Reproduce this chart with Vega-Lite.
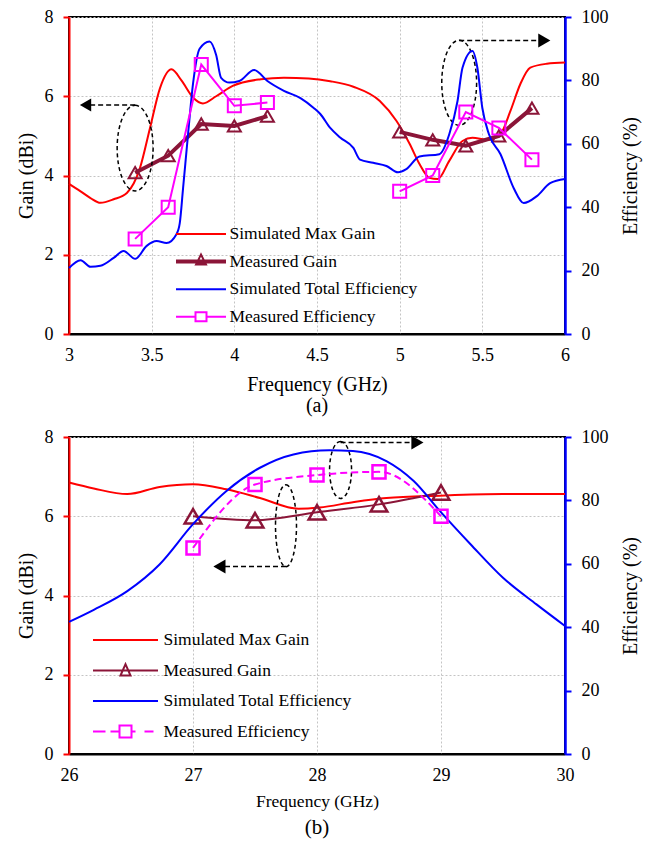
{
  "$schema": "https://vega.github.io/schema/vega-lite/v6.json",
  "background": "white",
  "padding": {"top": 7, "left": 15, "right": 10, "bottom": 5},
  "spacing": 10,
  "config": {
    "font": "Liberation Serif",
    "view": {"stroke": "black", "strokeWidth": 2},
    "axis": {
      "labelFont": "Liberation Serif", "titleFont": "Liberation Serif",
      "labelFontSize": 18, "titleFontSize": 20, "titleFontWeight": "normal",
      "labelColor": "black", "titleColor": "black",
      "gridColor": "#c4c4c4", "gridDash": [2, 2], "gridWidth": 1,
      "labelOverlap": false
    },
    "legend": {"labelFont": "Liberation Serif", "labelColor": "black", "labelLimit": 400},
    "title": {"font": "Liberation Serif", "fontWeight": "normal", "color": "black"}
  },
  "datasets": {
    "a_sg": [
      {"f": 3.0, "g": 3.79, "s": "Simulated Max Gain"},
      {"f": 3.07, "g": 3.6, "s": "Simulated Max Gain"},
      {"f": 3.13, "g": 3.43, "s": "Simulated Max Gain"},
      {"f": 3.19, "g": 3.31, "s": "Simulated Max Gain"},
      {"f": 3.27, "g": 3.4, "s": "Simulated Max Gain"},
      {"f": 3.35, "g": 3.56, "s": "Simulated Max Gain"},
      {"f": 3.43, "g": 4.2, "s": "Simulated Max Gain"},
      {"f": 3.49, "g": 5.2, "s": "Simulated Max Gain"},
      {"f": 3.55, "g": 6.2, "s": "Simulated Max Gain"},
      {"f": 3.62, "g": 6.68, "s": "Simulated Max Gain"},
      {"f": 3.68, "g": 6.4, "s": "Simulated Max Gain"},
      {"f": 3.75, "g": 5.97, "s": "Simulated Max Gain"},
      {"f": 3.81, "g": 5.82, "s": "Simulated Max Gain"},
      {"f": 3.89, "g": 6.0, "s": "Simulated Max Gain"},
      {"f": 3.99, "g": 6.26, "s": "Simulated Max Gain"},
      {"f": 4.16, "g": 6.43, "s": "Simulated Max Gain"},
      {"f": 4.3, "g": 6.47, "s": "Simulated Max Gain"},
      {"f": 4.45, "g": 6.45, "s": "Simulated Max Gain"},
      {"f": 4.58, "g": 6.38, "s": "Simulated Max Gain"},
      {"f": 4.72, "g": 6.24, "s": "Simulated Max Gain"},
      {"f": 4.88, "g": 5.88, "s": "Simulated Max Gain"},
      {"f": 4.98, "g": 5.38, "s": "Simulated Max Gain"},
      {"f": 5.06, "g": 4.8, "s": "Simulated Max Gain"},
      {"f": 5.12, "g": 4.29, "s": "Simulated Max Gain"},
      {"f": 5.18, "g": 3.94, "s": "Simulated Max Gain"},
      {"f": 5.23, "g": 3.91, "s": "Simulated Max Gain"},
      {"f": 5.3, "g": 4.37, "s": "Simulated Max Gain"},
      {"f": 5.38, "g": 4.87, "s": "Simulated Max Gain"},
      {"f": 5.44, "g": 4.95, "s": "Simulated Max Gain"},
      {"f": 5.53, "g": 4.9, "s": "Simulated Max Gain"},
      {"f": 5.61, "g": 5.05, "s": "Simulated Max Gain"},
      {"f": 5.67, "g": 5.63, "s": "Simulated Max Gain"},
      {"f": 5.73, "g": 6.31, "s": "Simulated Max Gain"},
      {"f": 5.79, "g": 6.72, "s": "Simulated Max Gain"},
      {"f": 5.89, "g": 6.82, "s": "Simulated Max Gain"},
      {"f": 6.0, "g": 6.85, "s": "Simulated Max Gain"}
    ],
    "a_mg": [
      {"f": 3.4, "g": 4.07, "seg": 1, "s": "Measured Gain"},
      {"f": 3.6, "g": 4.5, "seg": 1, "s": "Measured Gain"},
      {"f": 3.8, "g": 5.3, "seg": 1, "s": "Measured Gain"},
      {"f": 4.0, "g": 5.25, "seg": 1, "s": "Measured Gain"},
      {"f": 4.2, "g": 5.5, "seg": 1, "s": "Measured Gain"},
      {"f": 5.0, "g": 5.1, "seg": 2, "s": "Measured Gain"},
      {"f": 5.2, "g": 4.9, "seg": 2, "s": "Measured Gain"},
      {"f": 5.4, "g": 4.75, "seg": 2, "s": "Measured Gain"},
      {"f": 5.6, "g": 5.0, "seg": 2, "s": "Measured Gain"},
      {"f": 5.8, "g": 5.7, "seg": 2, "s": "Measured Gain"}
    ],
    "a_se": [
      {"f": 3.0, "e": 20.8, "s": "Simulated Total Efficiency"},
      {"f": 3.07, "e": 23.3, "s": "Simulated Total Efficiency"},
      {"f": 3.13, "e": 21.2, "s": "Simulated Total Efficiency"},
      {"f": 3.19, "e": 21.5, "s": "Simulated Total Efficiency"},
      {"f": 3.27, "e": 24, "s": "Simulated Total Efficiency"},
      {"f": 3.33, "e": 26.2, "s": "Simulated Total Efficiency"},
      {"f": 3.4, "e": 23.7, "s": "Simulated Total Efficiency"},
      {"f": 3.47, "e": 27.8, "s": "Simulated Total Efficiency"},
      {"f": 3.53, "e": 29.3, "s": "Simulated Total Efficiency"},
      {"f": 3.59, "e": 28.7, "s": "Simulated Total Efficiency"},
      {"f": 3.65, "e": 31.5, "s": "Simulated Total Efficiency"},
      {"f": 3.67, "e": 35, "s": "Simulated Total Efficiency"},
      {"f": 3.69, "e": 46, "s": "Simulated Total Efficiency"},
      {"f": 3.72, "e": 63, "s": "Simulated Total Efficiency"},
      {"f": 3.75, "e": 78.9, "s": "Simulated Total Efficiency"},
      {"f": 3.79, "e": 90, "s": "Simulated Total Efficiency"},
      {"f": 3.85, "e": 92.3, "s": "Simulated Total Efficiency"},
      {"f": 3.89, "e": 88, "s": "Simulated Total Efficiency"},
      {"f": 3.92, "e": 80.8, "s": "Simulated Total Efficiency"},
      {"f": 3.97, "e": 79.3, "s": "Simulated Total Efficiency"},
      {"f": 4.03, "e": 79.8, "s": "Simulated Total Efficiency"},
      {"f": 4.12, "e": 83.3, "s": "Simulated Total Efficiency"},
      {"f": 4.2, "e": 79.8, "s": "Simulated Total Efficiency"},
      {"f": 4.3, "e": 76.7, "s": "Simulated Total Efficiency"},
      {"f": 4.4, "e": 74.4, "s": "Simulated Total Efficiency"},
      {"f": 4.48, "e": 71.3, "s": "Simulated Total Efficiency"},
      {"f": 4.52, "e": 69.4, "s": "Simulated Total Efficiency"},
      {"f": 4.58, "e": 65, "s": "Simulated Total Efficiency"},
      {"f": 4.64, "e": 62, "s": "Simulated Total Efficiency"},
      {"f": 4.72, "e": 58.7, "s": "Simulated Total Efficiency"},
      {"f": 4.76, "e": 55, "s": "Simulated Total Efficiency"},
      {"f": 4.84, "e": 54, "s": "Simulated Total Efficiency"},
      {"f": 4.92, "e": 53, "s": "Simulated Total Efficiency"},
      {"f": 4.99, "e": 51, "s": "Simulated Total Efficiency"},
      {"f": 5.04, "e": 52, "s": "Simulated Total Efficiency"},
      {"f": 5.12, "e": 56, "s": "Simulated Total Efficiency"},
      {"f": 5.24, "e": 56.7, "s": "Simulated Total Efficiency"},
      {"f": 5.3, "e": 63, "s": "Simulated Total Efficiency"},
      {"f": 5.35, "e": 73.5, "s": "Simulated Total Efficiency"},
      {"f": 5.38, "e": 84, "s": "Simulated Total Efficiency"},
      {"f": 5.44, "e": 89.3, "s": "Simulated Total Efficiency"},
      {"f": 5.47, "e": 84, "s": "Simulated Total Efficiency"},
      {"f": 5.5, "e": 71.3, "s": "Simulated Total Efficiency"},
      {"f": 5.54, "e": 63, "s": "Simulated Total Efficiency"},
      {"f": 5.61, "e": 56.7, "s": "Simulated Total Efficiency"},
      {"f": 5.69, "e": 46, "s": "Simulated Total Efficiency"},
      {"f": 5.75, "e": 41.3, "s": "Simulated Total Efficiency"},
      {"f": 5.83, "e": 43.5, "s": "Simulated Total Efficiency"},
      {"f": 5.91, "e": 47.6, "s": "Simulated Total Efficiency"},
      {"f": 6.0, "e": 48.9, "s": "Simulated Total Efficiency"}
    ],
    "a_me": [
      {"f": 3.4, "e": 30, "seg": 1, "s": "Measured Efficiency"},
      {"f": 3.6, "e": 40, "seg": 1, "s": "Measured Efficiency"},
      {"f": 3.8, "e": 85, "seg": 1, "s": "Measured Efficiency"},
      {"f": 4.0, "e": 72, "seg": 1, "s": "Measured Efficiency"},
      {"f": 4.2, "e": 73, "seg": 1, "s": "Measured Efficiency"},
      {"f": 5.0, "e": 45, "seg": 2, "s": "Measured Efficiency"},
      {"f": 5.2, "e": 50, "seg": 2, "s": "Measured Efficiency"},
      {"f": 5.4, "e": 70, "seg": 2, "s": "Measured Efficiency"},
      {"f": 5.6, "e": 65, "seg": 2, "s": "Measured Efficiency"},
      {"f": 5.8, "e": 55, "seg": 2, "s": "Measured Efficiency"}
    ],
    "b_sg": [
      {"f": 26.0, "g": 6.85, "s": "Simulated Max Gain"},
      {"f": 26.2, "g": 6.7, "s": "Simulated Max Gain"},
      {"f": 26.47, "g": 6.56, "s": "Simulated Max Gain"},
      {"f": 26.73, "g": 6.74, "s": "Simulated Max Gain"},
      {"f": 27.0, "g": 6.81, "s": "Simulated Max Gain"},
      {"f": 27.27, "g": 6.68, "s": "Simulated Max Gain"},
      {"f": 27.54, "g": 6.46, "s": "Simulated Max Gain"},
      {"f": 27.85, "g": 6.19, "s": "Simulated Max Gain"},
      {"f": 28.02, "g": 6.22, "s": "Simulated Max Gain"},
      {"f": 28.3, "g": 6.36, "s": "Simulated Max Gain"},
      {"f": 28.56, "g": 6.46, "s": "Simulated Max Gain"},
      {"f": 28.99, "g": 6.52, "s": "Simulated Max Gain"},
      {"f": 29.5, "g": 6.56, "s": "Simulated Max Gain"},
      {"f": 30.0, "g": 6.56, "s": "Simulated Max Gain"}
    ],
    "b_mg": [
      {"f": 27.0, "g": 6.0, "s": "Measured Gain"},
      {"f": 27.5, "g": 5.9, "s": "Measured Gain"},
      {"f": 28.0, "g": 6.1, "s": "Measured Gain"},
      {"f": 28.5, "g": 6.3, "s": "Measured Gain"},
      {"f": 29.0, "g": 6.6, "s": "Measured Gain"}
    ],
    "b_se": [
      {"f": 26.0, "e": 41.7, "s": "Simulated Total Efficiency"},
      {"f": 26.2, "e": 45.5, "s": "Simulated Total Efficiency"},
      {"f": 26.47, "e": 51.4, "s": "Simulated Total Efficiency"},
      {"f": 26.73, "e": 59.8, "s": "Simulated Total Efficiency"},
      {"f": 27.0, "e": 72.5, "s": "Simulated Total Efficiency"},
      {"f": 27.27, "e": 83, "s": "Simulated Total Efficiency"},
      {"f": 27.54, "e": 90.3, "s": "Simulated Total Efficiency"},
      {"f": 27.81, "e": 94.5, "s": "Simulated Total Efficiency"},
      {"f": 28.1, "e": 95.8, "s": "Simulated Total Efficiency"},
      {"f": 28.29, "e": 95.6, "s": "Simulated Total Efficiency"},
      {"f": 28.56, "e": 92.4, "s": "Simulated Total Efficiency"},
      {"f": 28.78, "e": 86.1, "s": "Simulated Total Efficiency"},
      {"f": 28.99, "e": 76.7, "s": "Simulated Total Efficiency"},
      {"f": 29.24, "e": 66.1, "s": "Simulated Total Efficiency"},
      {"f": 29.5, "e": 55.6, "s": "Simulated Total Efficiency"},
      {"f": 29.77, "e": 47.2, "s": "Simulated Total Efficiency"},
      {"f": 30.0, "e": 40.4, "s": "Simulated Total Efficiency"}
    ],
    "b_me": [
      {"f": 27.0, "e": 65, "s": "Measured Efficiency"},
      {"f": 27.5, "e": 85, "s": "Measured Efficiency"},
      {"f": 28.0, "e": 88, "s": "Measured Efficiency"},
      {"f": 28.5, "e": 89, "s": "Measured Efficiency"},
      {"f": 29.0, "e": 75, "s": "Measured Efficiency"}
    ],
    "a_ell1": [{"f": 3.4, "g": 4.69}],
    "a_ell2": [{"f": 5.36, "g": 6.34}],
    "a_arrL": [{"f": 3.4, "f2": 3.1, "g": 5.78}],
    "a_arrR": [{"f": 5.36, "f2": 5.875, "g": 7.41}],
    "b_ell1": [{"f": 27.75, "g": 5.76}],
    "b_ell2": [{"f": 28.19, "g": 7.17}],
    "b_arrL": [{"f": 27.75, "f2": 27.213, "g": 4.73}],
    "b_arrR": [{"f": 28.19, "f2": 28.81, "g": 7.86}]
  },
  "resolve": {"scale": {"x": "independent", "y": "independent", "color": "independent"}},
  "vconcat": [
    {
      "width": 496, "height": 317,
      "title": {"text": "(a)", "orient": "bottom", "frame": "group", "anchor": "middle", "fontSize": 20, "offset": 2},
      "layer": [
        {
          "layer": [
            {
              "data": {"name": "a_sg"},
              "mark": {"type": "line", "strokeWidth": 2, "interpolate": "monotone"},
              "encoding": {
                "x": {"field": "f", "type": "quantitative", "scale": {"domain": [3, 6], "nice": false},
                  "axis": {"values": [3, 3.5, 4, 4.5, 5, 5.5, 6], "labelExpr": "'' + datum.value", "title": "Frequency (GHz)", "domainColor": "black", "domainWidth": 2, "ticks": false, "labelPadding": 12, "titlePadding": 10, "grid": true, "labelFlush": false}},
                "y": {"field": "g", "type": "quantitative", "scale": {"domain": [0, 8], "nice": false},
                  "axis": {"values": [0, 2, 4, 6, 8], "labelExpr": "'' + datum.value", "title": "Gain (dBi)", "orient": "left", "domainColor": "#ff0000", "domainWidth": 2, "tickColor": "#ff0000", "tickWidth": 2, "tickSize": 6, "labelPadding": 10, "titlePadding": 8, "grid": true}},
                "color": {"field": "s", "type": "nominal",
                  "scale": {"domain": ["Simulated Max Gain", "Measured Gain", "Simulated Total Efficiency", "Measured Efficiency"], "range": ["#ff0000", "#8b1538", "#0000ff", "#ff00ff"]},
                  "legend": {
                    "orient": "none", "legendX": 121, "legendY": 206, "title": null, "padding": 0,
                    "symbolSize": 400, "labelFontSize": 17.5, "labelOffset": 17.5, "rowPadding": 7.6, "labelLimit": 400,
                    "encode": {"symbols": {"update": {
                      "shape": {"signal": "datum.value === 'Measured Gain' ? 'M-2.5,-0.1H2.5M-2.5,0.1H2.5M-0.5,0.3L0,-0.7L0.5,0.3Z' : datum.value === 'Measured Efficiency' ? 'M-2.5,0H-0.55M0.55,0H2.5M-0.55,-0.45H0.55V0.45H-0.55Z' : 'M-2.5,0H2.5'"},
                      "size": {"value": 400},
                      "stroke": {"signal": "datum.value === 'Simulated Max Gain' ? '#ff0000' : datum.value === 'Measured Gain' ? '#8b1538' : datum.value === 'Simulated Total Efficiency' ? '#0000ff' : '#ff00ff'"},
                      "strokeWidth": {"value": 2},
                      "fill": {"value": "transparent"},
                      "opacity": {"value": 1}
                    }}}
                  }}
              }
            },
            {
              "data": {"name": "a_mg"},
              "mark": {"type": "line", "strokeWidth": 4},
              "encoding": {
                "x": {"field": "f", "type": "quantitative"},
                "y": {"field": "g", "type": "quantitative"},
                "detail": {"field": "seg", "type": "nominal"},
                "color": {"field": "s", "type": "nominal"}
              }
            },
            {
              "data": {"name": "a_mg"},
              "mark": {"type": "point", "shape": "triangle-up", "filled": false, "size": 170, "strokeWidth": 2, "opacity": 1},
              "encoding": {
                "x": {"field": "f", "type": "quantitative"},
                "y": {"field": "g", "type": "quantitative"},
                "color": {"field": "s", "type": "nominal"}
              }
            },
            {
              "data": {"name": "a_ell1"},
              "mark": {"type": "point", "shape": "M0,-1A0.42,1,0,1,1,0,1A0.42,1,0,1,1,0,-1Z", "filled": false, "stroke": "black", "strokeWidth": 1.5, "strokeDash": [4, 3], "size": 7330, "opacity": 1},
              "encoding": {"x": {"field": "f", "type": "quantitative"}, "y": {"field": "g", "type": "quantitative"}}
            },
            {
              "data": {"name": "a_ell2"},
              "mark": {"type": "point", "shape": "M0,-1A0.41,1,0,1,1,0,1A0.41,1,0,1,1,0,-1Z", "filled": false, "stroke": "black", "strokeWidth": 1.5, "strokeDash": [4, 3], "size": 7225, "opacity": 1},
              "encoding": {"x": {"field": "f", "type": "quantitative"}, "y": {"field": "g", "type": "quantitative"}}
            },
            {
              "data": {"name": "a_arrL"},
              "mark": {"type": "rule", "stroke": "black", "strokeWidth": 1.5, "strokeDash": [5, 3]},
              "encoding": {"x": {"field": "f", "type": "quantitative"}, "x2": {"field": "f2"}, "y": {"field": "g", "type": "quantitative"}}
            },
            {
              "data": {"name": "a_arrL"},
              "mark": {"type": "point", "shape": "triangle-left", "filled": true, "fill": "black", "size": 170, "opacity": 1},
              "encoding": {"x": {"field": "f2", "type": "quantitative"}, "y": {"field": "g", "type": "quantitative"}}
            },
            {
              "data": {"name": "a_arrR"},
              "mark": {"type": "rule", "stroke": "black", "strokeWidth": 1.5, "strokeDash": [5, 3]},
              "encoding": {"x": {"field": "f", "type": "quantitative"}, "x2": {"field": "f2"}, "y": {"field": "g", "type": "quantitative"}}
            },
            {
              "data": {"name": "a_arrR"},
              "mark": {"type": "point", "shape": "triangle-right", "filled": true, "fill": "black", "size": 196, "opacity": 1},
              "encoding": {"x": {"field": "f2", "type": "quantitative"}, "y": {"field": "g", "type": "quantitative"}}
            }
          ]
        },
        {
          "layer": [
            {
              "data": {"name": "a_se"},
              "mark": {"type": "line", "strokeWidth": 2, "interpolate": "monotone"},
              "encoding": {
                "x": {"field": "f", "type": "quantitative"},
                "y": {"field": "e", "type": "quantitative", "scale": {"domain": [0, 100], "nice": false},
                  "axis": {"values": [0, 20, 40, 60, 80, 100], "labelExpr": "'' + datum.value", "title": "Efficiency (%)", "orient": "right", "domainColor": "#0000ff", "domainWidth": 2.5, "tickColor": "#0000ff", "tickWidth": 2, "tickSize": 6, "labelPadding": 10, "titlePadding": 32, "titleAngle": 270, "grid": false}},
                "color": {"field": "s", "type": "nominal"}
              }
            },
            {
              "data": {"name": "a_me"},
              "mark": {"type": "line", "strokeWidth": 2},
              "encoding": {
                "x": {"field": "f", "type": "quantitative"},
                "y": {"field": "e", "type": "quantitative"},
                "detail": {"field": "seg", "type": "nominal"},
                "color": {"field": "s", "type": "nominal"}
              }
            },
            {
              "data": {"name": "a_me"},
              "mark": {"type": "point", "shape": "square", "filled": false, "size": 170, "strokeWidth": 2, "opacity": 1},
              "encoding": {
                "x": {"field": "f", "type": "quantitative"},
                "y": {"field": "e", "type": "quantitative"},
                "color": {"field": "s", "type": "nominal"}
              }
            }
          ]
        }
      ],
      "resolve": {"scale": {"y": "independent"}}
    },
    {
      "width": 496, "height": 317,
      "title": {"text": "(b)", "orient": "bottom", "frame": "group", "anchor": "middle", "fontSize": 21, "offset": 7},
      "layer": [
        {
          "layer": [
            {
              "data": {"name": "b_sg"},
              "mark": {"type": "line", "strokeWidth": 2, "interpolate": "monotone"},
              "encoding": {
                "x": {"field": "f", "type": "quantitative", "scale": {"domain": [26, 30], "nice": false},
                  "axis": {"values": [26, 27, 28, 29, 30], "labelExpr": "'' + datum.value", "title": "Frequency (GHz)", "titleFontSize": 17.5, "domainColor": "black", "domainWidth": 2, "ticks": false, "labelPadding": 12, "titlePadding": 8, "grid": true, "labelFlush": false}},
                "y": {"field": "g", "type": "quantitative", "scale": {"domain": [0, 8], "nice": false},
                  "axis": {"values": [0, 2, 4, 6, 8], "labelExpr": "'' + datum.value", "title": "Gain (dBi)", "orient": "left", "domainColor": "#ff0000", "domainWidth": 2, "tickColor": "#ff0000", "tickWidth": 2, "tickSize": 6, "labelPadding": 10, "titlePadding": 8, "grid": true}},
                "color": {"field": "s", "type": "nominal",
                  "scale": {"domain": ["Simulated Max Gain", "Measured Gain", "Simulated Total Efficiency", "Measured Efficiency"], "range": ["#ff0000", "#8b1538", "#0000ff", "#ff00ff"]},
                  "legend": {
                    "orient": "none", "legendX": 45.5, "legendY": 192, "title": null, "padding": 0,
                    "symbolSize": 400, "labelFontSize": 17.5, "labelOffset": 27, "rowPadding": 10.5, "labelLimit": 400,
                    "encode": {"symbols": {"update": {
                      "shape": {"signal": "datum.value === 'Measured Gain' ? 'M-3.25,0H3.25M-0.5,0.5L0,-0.63L0.5,0.5Z' : datum.value === 'Measured Efficiency' ? 'M-3.25,0H-2M-1.5,0H-0.6M0.6,0H1.0M1.9,0H2.8M-0.6,-0.6H0.6V0.6H-0.6Z' : 'M-3.25,0H3.25'"},
                      "size": {"value": 400},
                      "stroke": {"signal": "datum.value === 'Simulated Max Gain' ? '#ff0000' : datum.value === 'Measured Gain' ? '#8b1538' : datum.value === 'Simulated Total Efficiency' ? '#0000ff' : '#ff00ff'"},
                      "strokeWidth": {"value": 2},
                      "fill": {"value": "transparent"},
                      "opacity": {"value": 1}
                    }}}
                  }}
              }
            },
            {
              "data": {"name": "b_mg"},
              "mark": {"type": "line", "strokeWidth": 2, "interpolate": "monotone"},
              "encoding": {
                "x": {"field": "f", "type": "quantitative"},
                "y": {"field": "g", "type": "quantitative"},
                "color": {"field": "s", "type": "nominal"}
              }
            },
            {
              "data": {"name": "b_mg"},
              "mark": {"type": "point", "shape": "triangle-up", "filled": false, "size": 280, "strokeWidth": 2.5, "opacity": 1},
              "encoding": {
                "x": {"field": "f", "type": "quantitative"},
                "y": {"field": "g", "type": "quantitative"},
                "color": {"field": "s", "type": "nominal"}
              }
            },
            {
              "data": {"name": "b_ell1"},
              "mark": {"type": "point", "shape": "M0,-1A0.256,1,0,1,1,0,1A0.256,1,0,1,1,0,-1Z", "filled": false, "stroke": "black", "strokeWidth": 1.5, "strokeDash": [4, 3], "size": 6724, "opacity": 1},
              "encoding": {"x": {"field": "f", "type": "quantitative"}, "y": {"field": "g", "type": "quantitative"}}
            },
            {
              "data": {"name": "b_ell2"},
              "mark": {"type": "point", "shape": "M0,-1A0.386,1,0,1,1,0,1A0.386,1,0,1,1,0,-1Z", "filled": false, "stroke": "black", "strokeWidth": 1.5, "strokeDash": [4, 3], "size": 3249, "opacity": 1},
              "encoding": {"x": {"field": "f", "type": "quantitative"}, "y": {"field": "g", "type": "quantitative"}}
            },
            {
              "data": {"name": "b_arrL"},
              "mark": {"type": "rule", "stroke": "black", "strokeWidth": 1.5, "strokeDash": [5, 3]},
              "encoding": {"x": {"field": "f", "type": "quantitative"}, "x2": {"field": "f2"}, "y": {"field": "g", "type": "quantitative"}}
            },
            {
              "data": {"name": "b_arrL"},
              "mark": {"type": "point", "shape": "triangle-left", "filled": true, "fill": "black", "size": 196, "opacity": 1},
              "encoding": {"x": {"field": "f2", "type": "quantitative"}, "y": {"field": "g", "type": "quantitative"}}
            },
            {
              "data": {"name": "b_arrR"},
              "mark": {"type": "rule", "stroke": "black", "strokeWidth": 1.5, "strokeDash": [5, 3]},
              "encoding": {"x": {"field": "f", "type": "quantitative"}, "x2": {"field": "f2"}, "y": {"field": "g", "type": "quantitative"}}
            },
            {
              "data": {"name": "b_arrR"},
              "mark": {"type": "point", "shape": "triangle-right", "filled": true, "fill": "black", "size": 196, "opacity": 1},
              "encoding": {"x": {"field": "f2", "type": "quantitative"}, "y": {"field": "g", "type": "quantitative"}}
            }
          ]
        },
        {
          "layer": [
            {
              "data": {"name": "b_se"},
              "mark": {"type": "line", "strokeWidth": 2, "interpolate": "monotone"},
              "encoding": {
                "x": {"field": "f", "type": "quantitative"},
                "y": {"field": "e", "type": "quantitative", "scale": {"domain": [0, 100], "nice": false},
                  "axis": {"values": [0, 20, 40, 60, 80, 100], "labelExpr": "'' + datum.value", "title": "Efficiency (%)", "orient": "right", "domainColor": "#0000ff", "domainWidth": 2.5, "tickColor": "#0000ff", "tickWidth": 2, "tickSize": 6, "labelPadding": 10, "titlePadding": 32, "titleAngle": 270, "grid": false}},
                "color": {"field": "s", "type": "nominal"}
              }
            },
            {
              "data": {"name": "b_me"},
              "mark": {"type": "line", "strokeWidth": 2, "interpolate": "monotone", "strokeDash": [7, 4]},
              "encoding": {
                "x": {"field": "f", "type": "quantitative"},
                "y": {"field": "e", "type": "quantitative"},
                "color": {"field": "s", "type": "nominal"}
              }
            },
            {
              "data": {"name": "b_me"},
              "mark": {"type": "point", "shape": "square", "filled": false, "size": 170, "strokeWidth": 2.5, "opacity": 1},
              "encoding": {
                "x": {"field": "f", "type": "quantitative"},
                "y": {"field": "e", "type": "quantitative"},
                "color": {"field": "s", "type": "nominal"}
              }
            }
          ]
        }
      ],
      "resolve": {"scale": {"y": "independent"}}
    }
  ]
}
